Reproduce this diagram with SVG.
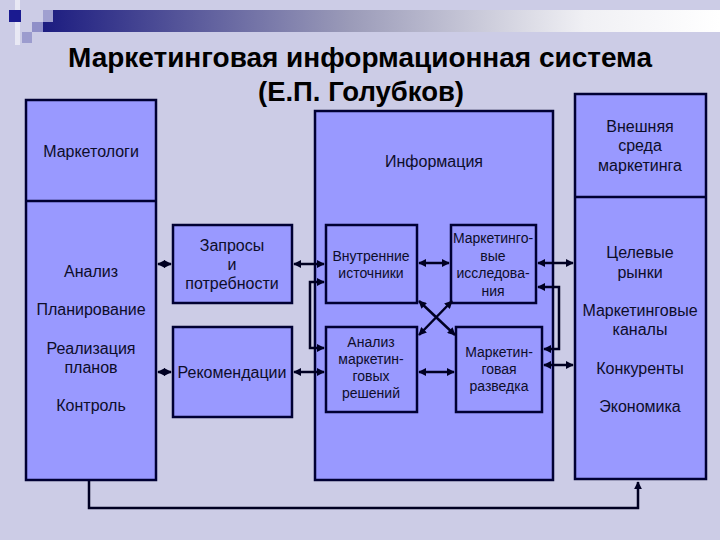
<svg xmlns="http://www.w3.org/2000/svg" width="720" height="540" viewBox="0 0 720 540">
<defs>
<linearGradient id="bar" x1="0" y1="0" x2="1" y2="0">
<stop offset="0" stop-color="#1c1c80"/>
<stop offset="0.45" stop-color="#9a9ab8"/>
<stop offset="0.8" stop-color="#f0f0f4"/>
<stop offset="1" stop-color="#ffffff"/>
</linearGradient>
<marker id="ah" viewBox="0 0 10 10" refX="9" refY="5" markerWidth="3.2" markerHeight="3.2" orient="auto-start-reverse" markerUnits="strokeWidth">
<path d="M0,0 L10,5 L0,10 z" fill="#000022"/>
</marker>
</defs>
<style>
.box{fill:#9999ff;stroke:#000033;stroke-width:2.5}
.t{font-family:"Liberation Sans",Arial,sans-serif;font-size:16px;fill:#0d0d2a;text-anchor:middle}
.s{font-size:14px}
.title{font-family:"Liberation Sans",Arial,sans-serif;font-size:28px;font-weight:bold;fill:#000000;text-anchor:middle}
.c{fill:none;stroke:#000022;stroke-width:2.5}
.ca{fill:none;stroke:#000022;stroke-width:2.5;marker-start:url(#ah);marker-end:url(#ah)}
.ce{fill:none;stroke:#000022;stroke-width:2.5;marker-end:url(#ah)}
</style>
<rect x="0" y="0" width="720" height="540" fill="#ccccE6"/>
<g id="decor">
<rect x="15" y="0" width="5" height="45" fill="#e8e8f4"/>
<rect x="9" y="10" width="12" height="12" fill="#1a1a90"/>
<rect x="43" y="10" width="677" height="22" fill="url(#bar)"/>
<rect x="43" y="10" width="10" height="12" fill="#a0a0d0"/>
<rect x="32" y="22" width="11" height="10" fill="#8f8fc8"/>
<rect x="22" y="32" width="10" height="11" fill="#9c9cce"/>
</g>
<g id="title">
<text class="title" x="360" y="67" textLength="584" lengthAdjust="spacingAndGlyphs">Маркетинговая информационная система</text>
<text class="title" x="361" y="101" textLength="206" lengthAdjust="spacingAndGlyphs">(Е.П. Голубков)</text>
</g>
<g id="n-marketers">
<rect class="box" x="26" y="100" width="130" height="380"/>
<line x1="26" y1="201" x2="156" y2="201" stroke="#000033" stroke-width="2.5"/>
<text class="t" x="91" y="157">Маркетологи</text>
<text class="t" x="91" y="277">Анализ</text>
<text class="t" x="91" y="315">Планирование</text>
<text class="t" x="91" y="354">Реализация</text>
<text class="t" x="91" y="373">планов</text>
<text class="t" x="91" y="411">Контроль</text>
</g>
<g id="n-requests">
<rect class="box" x="173" y="225" width="119" height="78"/>
<text class="t" x="232" y="251">Запросы</text>
<text class="t" x="232" y="270">и</text>
<text class="t" x="232" y="289">потребности</text>
</g>
<g id="n-recommend">
<rect class="box" x="173" y="327" width="119" height="90"/>
<text class="t" x="232" y="378">Рекомендации</text>
</g>
<g id="n-info">
<rect class="box" x="315" y="111" width="238" height="369"/>
<text class="t" x="434" y="167">Информация</text>
</g>
<g id="n-internal">
<rect class="box" x="326" y="225" width="91" height="78"/>
<text class="t s" x="371" y="261">Внутренние</text>
<text class="t s" x="371" y="278">источники</text>
</g>
<g id="n-research">
<rect class="box" x="451" y="225" width="85" height="78"/>
<text class="t s" x="493" y="243">Маркетинго-</text>
<text class="t s" x="493" y="261">вые</text>
<text class="t s" x="493" y="278">исследова-</text>
<text class="t s" x="493" y="296">ния</text>
</g>
<g id="n-analysis">
<rect class="box" x="326" y="327" width="91" height="85"/>
<text class="t s" x="371" y="347">Анализ</text>
<text class="t s" x="371" y="364">маркетин-</text>
<text class="t s" x="371" y="381">говых</text>
<text class="t s" x="371" y="398">решений</text>
</g>
<g id="n-intel">
<rect class="box" x="456" y="327" width="86" height="85"/>
<text class="t s" x="499" y="357">Маркетин-</text>
<text class="t s" x="499" y="374">говая</text>
<text class="t s" x="499" y="391">разведка</text>
</g>
<g id="n-external">
<rect class="box" x="575" y="94" width="131" height="385"/>
<line x1="575" y1="197" x2="706" y2="197" stroke="#000033" stroke-width="2.5"/>
<text class="t" x="640" y="132">Внешняя</text>
<text class="t" x="640" y="151">среда</text>
<text class="t" x="640" y="171">маркетинга</text>
<text class="t" x="640" y="258">Целевые</text>
<text class="t" x="640" y="278">рынки</text>
<text class="t" x="640" y="316">Маркетинговые</text>
<text class="t" x="640" y="335">каналы</text>
<text class="t" x="640" y="374">Конкуренты</text>
<text class="t" x="640" y="412">Экономика</text>
</g>
<g id="connectors">
<path class="ca" d="M158,264 H171"/>
<path class="ca" d="M158,372 H171"/>
<path class="ca" d="M294,264 H324"/>
<path class="ca" d="M294,372 H324"/>
<path class="ce" d="M324,282 H310 V348 H324" style="marker-start:url(#ah)"/>
<path class="ca" d="M419,263 H449"/>
<path class="ca" d="M419,372 H454"/>
<path class="ca" d="M419,301 L455,335"/>
<path class="ca" d="M452,301 L419,335"/>
<path class="ca" d="M538,263 H573"/>
<path class="ce" d="M538,287 H559 V349 H544" style="marker-start:url(#ah)"/>
<path class="ca" d="M544,365 H573"/>
<path class="ce" d="M89,481 V508 H638 V482"/>
</g>
</svg>
